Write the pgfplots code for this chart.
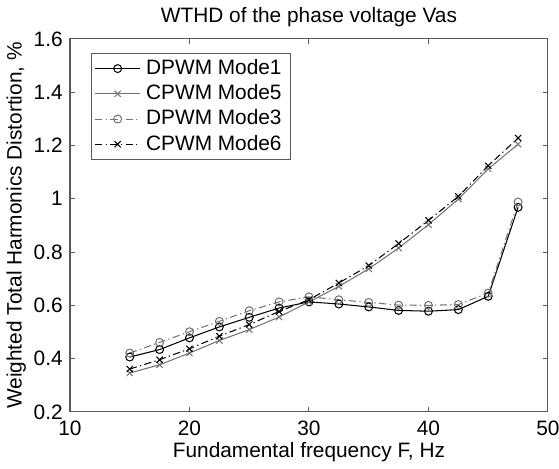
\documentclass[border=0pt]{standalone}
\usepackage{fontspec}
\setmainfont{Liberation Sans}
\usepackage{pgfplots}
\pgfplotsset{compat=1.18}
\definecolor{lgray}{gray}{0.45}
\definecolor{axgray}{gray}{0.35}
\begin{document}
\begin{tikzpicture}
\path[use as bounding box] (-33.6pt,-27.4pt) rectangle (234.7pt,197.7pt);
\begin{axis}[
  at={(0,0)}, anchor=south west,
  scale only axis, width=229.4pt, height=179pt,
  xmin=10, xmax=50, ymin=0.2, ymax=1.6,
  xtick={10,20,30,40,50},
  ytick={0.2,0.4,0.6,0.8,1,1.2,1.4,1.6},
  yticklabels={0.2,0.4,0.6,0.8,1,1.2,1.4,1.6},
  tick align=inside, tick pos=both,
  major tick length=2.4pt,
  axis line style={axgray, line width=0.5pt},
  every tick/.style={axgray, line width=0.5pt},
  /pgf/number format/assume math mode=true,
  ticklabel style={font=\fontsize{10}{12}\selectfont, text=black},
  xticklabel style={yshift=-1pt},
  title={WTHD of the phase voltage Vas},
  every axis title/.style={at={(axis description cs:0.5,1.0447)}, anchor=base, inner sep=0pt, font=\fontsize{10}{12}\selectfont},
  xlabel={Fundamental frequency F, Hz},
  xlabel style={at={(axis description cs:0.5,-0.1235)}, anchor=base, inner sep=0pt, font=\fontsize{10}{12}\selectfont},
  ylabel={Weighted Total Harmonics Distortion, \%},
  ylabel style={at={(axis description cs:-0.101,0.5)}, anchor=base, inner sep=0pt, font=\fontsize{10}{12}\selectfont},
  legend cell align=left,
  legend style={at={(0.0439,0.9624)}, anchor=north west, draw=axgray, line width=0.5pt,
    font=\fontsize{10}{12}\selectfont, inner xsep=1.5pt, inner ysep=1.2pt, row sep=0pt,
    nodes={inner ysep=1.6pt, inner xsep=2.6pt, text height=7.3pt, text depth=1.6pt}},
  legend image code/.code={\draw[mark repeat=2,mark phase=2] plot coordinates {(0cm,0cm) (0.38cm,0cm) (0.76cm,0cm)};},
  every axis plot/.append style={line width=0.5pt, mark size=1.9pt, mark options={solid}},
]
\addplot[black, mark=o] coordinates {
(15,0.406) (17.5,0.434) (20,0.478) (22.5,0.519) (25,0.555) (27.5,0.590) (30,0.613)
(32.5,0.605) (35,0.594) (37.5,0.581) (40,0.578) (42.5,0.584) (45,0.634) (47.5,0.968)};
\addlegendentry{DPWM Mode1}
\addplot[lgray, mark=x, mark size=2.1pt] coordinates {
(15,0.346) (17.5,0.377) (20,0.421) (22.5,0.468) (25,0.509) (27.5,0.556) (30,0.613)
(32.5,0.671) (35,0.737) (37.5,0.815) (40,0.903) (42.5,0.999) (45,1.112) (47.5,1.205)};
\addlegendentry{CPWM Mode5}
\addplot[lgray, mark=o, dash pattern=on 3.5pt off 1.6pt on 0.6pt off 1.6pt] coordinates {
(15,0.421) (17.5,0.461) (20,0.501) (22.5,0.540) (25,0.580) (27.5,0.613) (30,0.632)
(32.5,0.621) (35,0.611) (37.5,0.601) (40,0.600) (42.5,0.603) (45,0.646) (47.5,0.988)};
\addlegendentry{DPWM Mode3}
\addplot[black, mark=x, mark size=2.1pt, dash pattern=on 3.5pt off 1.6pt on 0.6pt off 1.6pt] coordinates {
(15,0.361) (17.5,0.396) (20,0.437) (22.5,0.484) (25,0.528) (27.5,0.577) (30,0.621)
(32.5,0.684) (35,0.749) (37.5,0.832) (40,0.919) (42.5,1.009) (45,1.124) (47.5,1.228)};
\addlegendentry{CPWM Mode6}
\end{axis}
\end{tikzpicture}
\end{document}
